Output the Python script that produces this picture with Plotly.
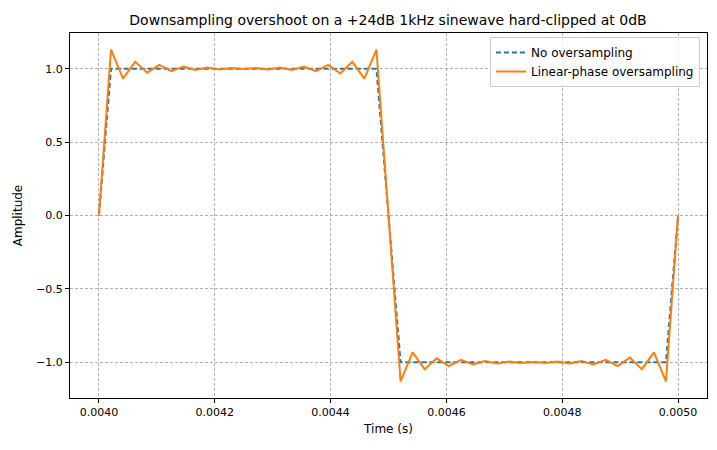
import plotly.graph_objects as go

fs = 48000
t0 = 0.004
n_samples = 49
time_s = [t0 + n / fs for n in range(n_samples)]

no_oversampling = [0.0] + [1.0] * 23 + [0.0] + [-1.0] * 23 + [0.0]

pos_half = [1.13, 0.933, 1.047, 0.973, 1.026, 0.984, 1.015, 0.991, 1.009, 0.995, 1.005, 0.998,
            1.005, 0.995, 1.009, 0.991, 1.015, 0.984, 1.026, 0.968, 1.047, 0.933, 1.13]
linear_phase = [0.0] + pos_half + [0.0] + [-v for v in pos_half] + [0.0]

x_ticks = [0.0040, 0.0042, 0.0044, 0.0046, 0.0048, 0.0050]
y_ticks = [-1.0, -0.5, 0.0, 0.5, 1.0]

font = "DejaVu Sans"
fig = go.Figure()
fig.add_trace(go.Scatter(x=time_s, y=no_oversampling, mode="lines", name="No oversampling",
                         line=dict(color="#1f77b4", width=2, dash="5px,3px")))
fig.add_trace(go.Scatter(x=time_s, y=linear_phase, mode="lines", name="Linear-phase oversampling",
                         line=dict(color="#ff7f0e", width=2)))

axis_common = dict(showline=True, linecolor="black", linewidth=1, mirror=True,
                   ticks="outside", ticklen=4, tickcolor="black", automargin=False,
                   showgrid=True, gridcolor="#b0b0b0", griddash="3px,2px", gridwidth=1,
                   zeroline=False, tickfont=dict(family=font, size=11, color="black"))

fig.update_layout(
    width=717, height=450,
    margin=dict(l=62, r=18, t=25, b=60, autoexpand=False),
    paper_bgcolor="white", plot_bgcolor="white",
    font=dict(family=font, size=11, color="black"),
    title=dict(text="Downsampling overshoot on a +24dB 1kHz sinewave hard-clipped at 0dB",
               x=0.53, xanchor="center", y=0.973, yanchor="middle", automargin=False,
               font=dict(family=font, size=14, color="black")),
    xaxis=dict(range=[0.00395, 0.00505], tickvals=x_ticks,
               ticktext=[f"{v:.4f}" for v in x_ticks],
               title=dict(text="Time (s)", font=dict(family=font, size=12), standoff=6),
               **axis_common),
    yaxis=dict(range=[-1.2435, 1.2435], tickvals=y_ticks,
               ticktext=[f"{v:.1f}".replace("-", "\u2212") for v in y_ticks],
               title=dict(text="Amplitude", font=dict(family=font, size=12), standoff=10),
               **axis_common),
    legend=dict(x=0.989, y=0.989, xanchor="right", yanchor="top",
                bgcolor="rgba(255,255,255,0.8)", bordercolor="#cccccc", borderwidth=1,
                font=dict(family=font, size=12), tracegroupgap=0),
    showlegend=True,
)

fig.write_html("out.html")
